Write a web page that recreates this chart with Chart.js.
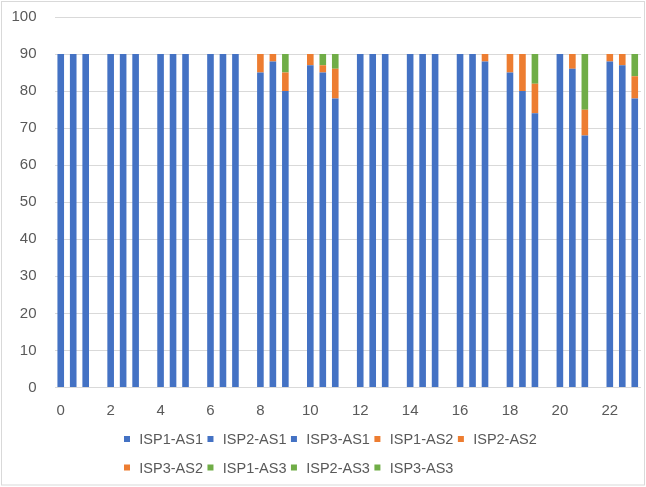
<!DOCTYPE html>
<html>
<head>
<meta charset="utf-8">
<script src="https://cdn.jsdelivr.net/npm/chart.js@4.4.1/dist/chart.umd.min.js"></script>
<style>
  html, body { margin: 0; padding: 0; background: #ffffff; }
  #wrap { width: 646px; height: 487px; position: relative; }
</style>
</head>
<body>
<div id="wrap"><canvas id="chart"></canvas></div>
<script>
// Hour labels shown under each group of three ISP columns
const hours = ['0', '2', '4', '6', '8', '10', '12', '14', '16', '18', '20', '22'];

// Series naming and colours (one colour per AS)
const isps = ['ISP1', 'ISP2', 'ISP3'];
const asNames = ['AS1', 'AS2', 'AS3'];
const asColors = ['#4472C4', '#ED7D31', '#70AD47'];

// Share per AS for each ISP, one value per hour group
const isp1AS1 = [90, 90, 90, 90, 85, 87, 90, 90, 90, 85, 90, 88];
const isp1AS2 = [0, 0, 0, 0, 5, 3, 0, 0, 0, 5, 0, 2];
const isp1AS3 = [0, 0, 0, 0, 0, 0, 0, 0, 0, 0, 0, 0];

const isp2AS1 = [90, 90, 90, 90, 88, 85, 90, 90, 90, 80, 86, 87];
const isp2AS2 = [0, 0, 0, 0, 2, 2, 0, 0, 0, 10, 4, 3];
const isp2AS3 = [0, 0, 0, 0, 0, 3, 0, 0, 0, 0, 0, 0];

const isp3AS1 = [90, 90, 90, 90, 80, 78, 90, 90, 88, 74, 68, 78];
const isp3AS2 = [0, 0, 0, 0, 5, 8, 0, 0, 2, 8, 7, 6];
const isp3AS3 = [0, 0, 0, 0, 5, 4, 0, 0, 0, 8, 15, 6];

// Y axis range
const yMin = 0, yMax = 100, yStep = 10;

const seriesValues = [
  [isp1AS1, isp2AS1, isp3AS1],
  [isp1AS2, isp2AS2, isp3AS2],
  [isp1AS3, isp2AS3, isp3AS3]
];

// Each hour group takes three column slots plus one empty spacer slot
const slotsPerGroup = 4;
const slotCount = hours.length * slotsPerGroup - 1;
const slotLabels = Array.from({ length: slotCount }, (_, s) =>
  s % slotsPerGroup === 0 ? hours[s / slotsPerGroup] : '');

function spread(values, ispIndex) {
  const out = new Array(slotCount).fill(null);
  values.forEach((v, g) => { out[g * slotsPerGroup + ispIndex] = v; });
  return out;
}

const datasets = [];
asNames.forEach((asName, a) => {
  isps.forEach((isp, i) => {
    datasets.push({
      label: isp + '-' + asName,
      data: spread(seriesValues[a][i], i),
      backgroundColor: asColors[a],
      borderWidth: 0,
      stack: 'share',
      categoryPercentage: 1.0,
      barPercentage: 0.53
    });
  });
});

const textColor = '#595959';
const fontFamily = '"Liberation Sans", Arial, sans-serif';

// Frame around the whole chart
const framePlugin = {
  id: 'frame',
  beforeDraw(chart) {
    const ctx = chart.ctx;
    ctx.save();
    ctx.fillStyle = '#ffffff';
    ctx.fillRect(0, 0, chart.width, chart.height);
    ctx.strokeStyle = '#D9D9D9';
    ctx.lineWidth = 1;
    ctx.strokeRect(1.5, 1.5, chart.width - 3, chart.height - 3.5);
    ctx.restore();
  }
};

// Two-row legend, rows aligned on the same left edge
const legendRows = [[0, 1, 2, 3, 4], [5, 6, 7, 8]];
const legendPlugin = {
  id: 'rowLegend',
  afterDraw(chart) {
    const ctx = chart.ctx;
    const left = 124, rowY = [440, 468.5];
    const box = 6, textGap = 9.3, itemGap = 4.5;
    ctx.save();
    ctx.font = '14.5px ' + fontFamily;
    ctx.textBaseline = 'middle';
    ctx.textAlign = 'left';
    legendRows.forEach((row, r) => {
      let x = left;
      row.forEach(idx => {
        const ds = chart.data.datasets[idx];
        ctx.fillStyle = ds.backgroundColor;
        ctx.fillRect(x, rowY[r] - box / 2 - 1, box, box);
        const tx = x + box + textGap;
        ctx.fillStyle = textColor;
        ctx.fillText(ds.label, tx, rowY[r]);
        x = tx + ctx.measureText(ds.label).width + itemGap;
      });
    });
    ctx.restore();
  }
};

new Chart(document.getElementById('chart'), {
  type: 'bar',
  data: { labels: slotLabels, datasets },
  plugins: [framePlugin, legendPlugin],
  options: {
    responsive: true,
    maintainAspectRatio: false,
    animation: false,
    layout: { padding: { left: 11, top: 17, right: 5, bottom: 67.5 } },
    plugins: {
      legend: { display: false },
      tooltip: { enabled: false }
    },
    scales: {
      x: {
        stacked: true,
        grid: { display: false, drawTicks: false },
        border: { display: false },
        ticks: {
          autoSkip: false,
          maxRotation: 0,
          minRotation: 0,
          padding: 14,
          color: textColor,
          font: { family: fontFamily, size: 15 }
        },
        afterFit(scale) {
          scale.height = 32;
          scale.paddingLeft = 0;
          scale.paddingRight = 0;
        }
      },
      y: {
        stacked: true,
        min: yMin,
        max: yMax,
        grid: { color: '#D9D9D9', drawTicks: false, lineWidth: 1 },
        border: { display: false },
        ticks: {
          stepSize: yStep,
          padding: 18,
          color: textColor,
          font: { family: fontFamily, size: 15 }
        },
        afterFit(scale) {
          scale.width = 43.5;
          scale.paddingTop = 0;
          scale.paddingBottom = 0;
        }
      }
    }
  }
});
</script>
</body>
</html>
